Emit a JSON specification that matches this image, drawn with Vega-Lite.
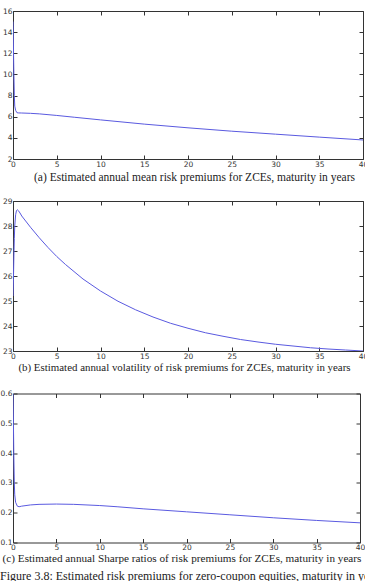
{
  "$schema": "https://vega.github.io/schema/vega-lite/v6.json",
  "padding": {"left": 0, "top": 7, "right": 0, "bottom": 0},
  "background": "white",
  "config": {
    "view": {"stroke": null},
    "axis": {
      "grid": false,
      "domainColor": "#333333",
      "domainWidth": 1,
      "tickColor": "#333333",
      "tickSize": -4,
      "tickWidth": 1,
      "labelFont": "DejaVu Sans",
      "labelFontSize": 7.5,
      "labelColor": "#333333",
      "labelPadding": 5,
      "labelFlush": false,
      "labelOverlap": false,
      "labelBound": false,
      "titleFont": "Liberation Serif",
      "titleFontSize": 11.5,
      "titleFontWeight": "normal",
      "titleColor": "#222222",
      "titlePadding": 4
    }
  },
  "datasets": {
    "mean": [
      {"x": 0, "v": 15.0}, {"x": 0.05, "v": 12.5}, {"x": 0.1, "v": 10.0}, {"x": 0.15, "v": 8.0},
      {"x": 0.2, "v": 7.0}, {"x": 0.3, "v": 6.6}, {"x": 0.45, "v": 6.38}, {"x": 0.6, "v": 6.36},
      {"x": 1, "v": 6.35}, {"x": 2, "v": 6.32}, {"x": 3, "v": 6.27}, {"x": 5, "v": 6.12},
      {"x": 7, "v": 5.95}, {"x": 10, "v": 5.7}, {"x": 15, "v": 5.3}, {"x": 20, "v": 4.95},
      {"x": 25, "v": 4.63}, {"x": 30, "v": 4.35}, {"x": 35, "v": 4.07}, {"x": 40, "v": 3.8}
    ],
    "vol": [
      {"x": 0, "v": 25.2}, {"x": 0.05, "v": 25.9}, {"x": 0.1, "v": 26.8}, {"x": 0.15, "v": 27.5},
      {"x": 0.2, "v": 28.0}, {"x": 0.3, "v": 28.45}, {"x": 0.4, "v": 28.62}, {"x": 0.5, "v": 28.65},
      {"x": 0.6, "v": 28.62}, {"x": 0.8, "v": 28.52}, {"x": 1, "v": 28.4}, {"x": 2, "v": 27.95},
      {"x": 3, "v": 27.53}, {"x": 4, "v": 27.14}, {"x": 5, "v": 26.78}, {"x": 6, "v": 26.46},
      {"x": 8, "v": 25.88}, {"x": 10, "v": 25.4}, {"x": 12, "v": 24.99}, {"x": 14, "v": 24.65},
      {"x": 16, "v": 24.36}, {"x": 18, "v": 24.11}, {"x": 20, "v": 23.91}, {"x": 22, "v": 23.73},
      {"x": 24, "v": 23.59}, {"x": 26, "v": 23.46}, {"x": 28, "v": 23.36}, {"x": 30, "v": 23.27},
      {"x": 32, "v": 23.2}, {"x": 34, "v": 23.13}, {"x": 36, "v": 23.08}, {"x": 38, "v": 23.04},
      {"x": 40, "v": 23.0}
    ],
    "sharpe": [
      {"x": 0, "v": 0.6}, {"x": 0.05, "v": 0.5}, {"x": 0.1, "v": 0.38}, {"x": 0.15, "v": 0.3},
      {"x": 0.2, "v": 0.26}, {"x": 0.3, "v": 0.235}, {"x": 0.5, "v": 0.222}, {"x": 0.7, "v": 0.22},
      {"x": 1, "v": 0.222}, {"x": 2, "v": 0.226}, {"x": 3, "v": 0.228}, {"x": 5, "v": 0.229},
      {"x": 7, "v": 0.228}, {"x": 10, "v": 0.224}, {"x": 12, "v": 0.22}, {"x": 15, "v": 0.213},
      {"x": 20, "v": 0.203}, {"x": 25, "v": 0.193}, {"x": 30, "v": 0.183}, {"x": 35, "v": 0.174},
      {"x": 40, "v": 0.166}
    ]
  },
  "title": {
    "text": "Figure 3.8: Estimated risk premiums for zero-coupon equities, maturity in years",
    "orient": "bottom",
    "anchor": "start",
    "frame": "bounds",
    "font": "Liberation Serif",
    "fontSize": 12,
    "fontWeight": "normal",
    "color": "#222222",
    "offset": 7
  },
  "align": "none",
  "spacing": 14,
  "vconcat": [
    {
      "width": 350,
      "height": 148,
      "data": {"name": "mean"},
      "layer": [
        {
          "mark": {"type": "line", "color": "#5a5ae0", "strokeWidth": 1, "clip": true},
          "encoding": {
            "x": {"field": "x", "type": "quantitative", "scale": {"domain": [0, 40], "nice": false},
                  "axis": {"values": [0, 5, 10, 15, 20, 25, 30, 35, 40], "titleX": 181, "titleFontSize": 11.5,
                           "title": "(a) Estimated annual mean risk premiums for ZCEs, maturity in years"}},
            "y": {"field": "v", "type": "quantitative", "scale": {"domain": [2, 16], "nice": false, "zero": false},
                  "axis": {"values": [2, 4, 6, 8, 10, 12, 14, 16], "title": null}}
          }
        },
        {
          "mark": {"type": "line", "opacity": 0},
          "encoding": {
            "x": {"field": "x", "type": "quantitative", "axis": {"orient": "top", "values": [0, 5, 10, 15, 20, 25, 30, 35, 40], "labels": false, "title": null}},
            "y": {"field": "v", "type": "quantitative", "axis": {"orient": "right", "values": [2, 4, 6, 8, 10, 12, 14, 16], "labels": false, "title": null}}
          }
        }
      ],
      "resolve": {"axis": {"x": "independent", "y": "independent"}}
    },
    {
      "align": "none",
      "spacing": 17.5,
      "vconcat": [
        {
          "width": 350,
          "height": 150,
          "data": {"name": "vol"},
          "layer": [
            {
              "mark": {"type": "line", "color": "#5a5ae0", "strokeWidth": 1, "clip": true},
              "encoding": {
                "x": {"field": "x", "type": "quantitative", "scale": {"domain": [0, 40], "nice": false},
                      "axis": {"values": [0, 5, 10, 15, 20, 25, 30, 35, 40], "titleX": 171, "titleFontSize": 10.9, "titlePadding": 1.5,
                               "title": "(b) Estimated annual volatility of risk premiums for ZCEs, maturity in years"}},
                "y": {"field": "v", "type": "quantitative", "scale": {"domain": [23, 29], "nice": false, "zero": false},
                      "axis": {"values": [23, 24, 25, 26, 27, 28, 29], "title": null}}
              }
            },
            {
              "mark": {"type": "line", "opacity": 0},
              "encoding": {
                "x": {"field": "x", "type": "quantitative", "axis": {"orient": "top", "values": [0, 5, 10, 15, 20, 25, 30, 35, 40], "labels": false, "title": null}},
                "y": {"field": "v", "type": "quantitative", "axis": {"orient": "right", "values": [23, 24, 25, 26, 27, 28, 29], "labels": false, "title": null}}
              }
            }
          ],
          "resolve": {"axis": {"x": "independent", "y": "independent"}}
        },
        {
          "width": 347,
          "height": 149,
          "data": {"name": "sharpe"},
          "layer": [
            {
              "mark": {"type": "line", "color": "#5a5ae0", "strokeWidth": 1, "clip": true},
              "encoding": {
                "x": {"field": "x", "type": "quantitative", "scale": {"domain": [0, 40], "nice": false},
                      "axis": {"values": [0, 5, 10, 15, 20, 25, 30, 35, 40], "titleX": 168.5, "titleFontSize": 11.2, "titlePadding": 1.5,
                               "title": "(c) Estimated annual Sharpe ratios of risk premiums for ZCEs, maturity in years"}},
                "y": {"field": "v", "type": "quantitative", "scale": {"domain": [0.1, 0.6], "nice": false, "zero": false},
                      "axis": {"values": [0.1, 0.2, 0.3, 0.4, 0.5, 0.6], "format": ".1f", "title": null}}
              }
            },
            {
              "mark": {"type": "line", "opacity": 0},
              "encoding": {
                "x": {"field": "x", "type": "quantitative", "axis": {"orient": "top", "values": [0, 5, 10, 15, 20, 25, 30, 35, 40], "labels": false, "title": null}},
                "y": {"field": "v", "type": "quantitative", "axis": {"orient": "right", "values": [0.1, 0.2, 0.3, 0.4, 0.5, 0.6], "labels": false, "title": null}}
              }
            }
          ],
          "resolve": {"axis": {"x": "independent", "y": "independent"}}
        }
      ]
    }
  ]
}
